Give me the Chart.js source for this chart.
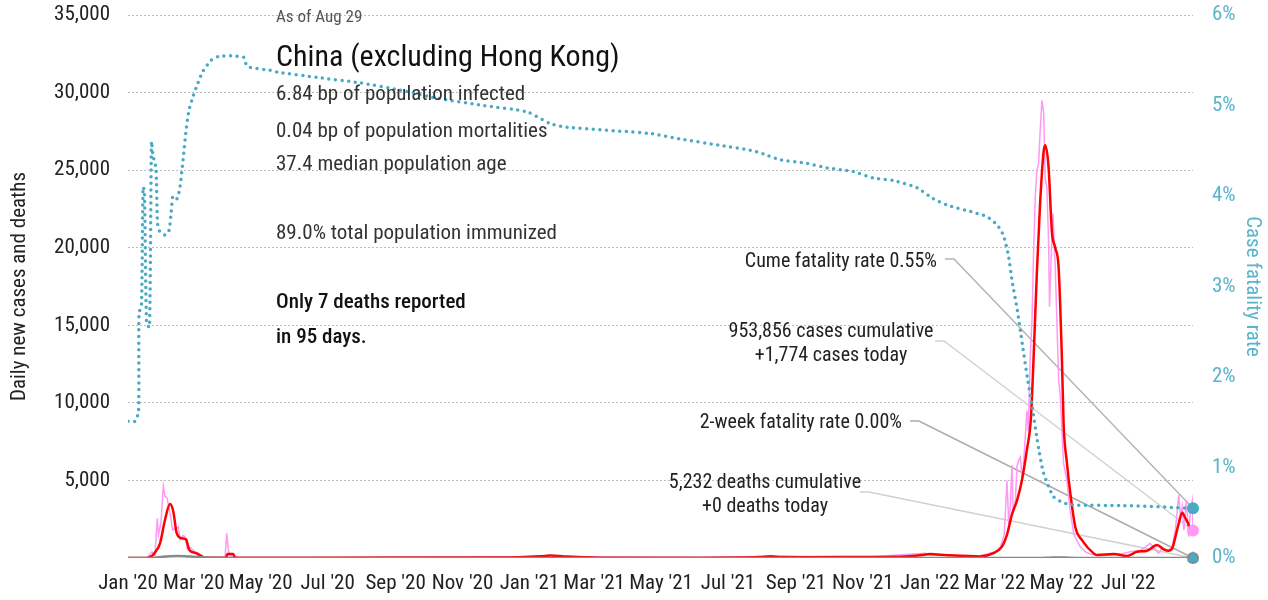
<!DOCTYPE html>
<html>
<head>
<meta charset="utf-8">
<script src="https://cdn.jsdelivr.net/npm/chart.js@4.4.0/dist/chart.umd.min.js"></script>
<style>
  body { margin: 0; background: #fff; }
  #wrap { width: 1268px; height: 600px; position: relative; }
</style>
</head>
<body>
<div id="wrap"><canvas id="covidChart"></canvas></div>
<script>
const FONT = "'Roboto Condensed', 'DejaVu Sans Condensed', sans-serif";
const TEAL = '#4aa9c3';
const PINK = '#ff99f5';

// x values are days counted from Jan 1 2020
const tickDays = [0, 60, 121, 182, 244, 305, 366, 425, 486, 547, 609, 670, 731, 790, 851, 912];
const tickLabels = ["Jan '20", "Mar '20", "May '20", "Jul '20", "Sep '20", "Nov '20", "Jan '21", "Mar '21",
  "May '21", "Jul '21", "Sep '21", "Nov '21", "Jan '22", "Mar '22", "May '22", "Jul '22"];
const lastDay = 971;

// case fatality rate, %
const cfrDays = [0, 6.4, 9.6, 10, 12.3, 13.7, 15, 16.9, 19.6, 21.4, 22.8, 25.5, 26.9, 29.2, 33.7, 37.4, 39.2, 41,
  44.7, 47.4, 50.2, 52.9, 55.6, 59.3, 63.8, 68.4, 75.7, 82.1, 93.9, 105.8, 107.6, 111.3, 129.5, 135.9, 172.4,
  211.6, 248.1, 281.8, 323.8, 363.9, 384.9, 400.4, 476.1, 503.4, 539.9, 570, 582.8, 594.6, 619.2, 637.5, 661.2,
  679.4, 697.7, 719.6, 734.2, 746.9, 770.6, 783.4, 792.5, 798, 802.6, 806.2, 810.8, 815.3, 819.9, 824.4, 829,
  834.5, 843.6, 852.7, 863.6, 904.7, 971];
const cfrPct = [1.51, 1.51, 1.62, 2.7, 2.8, 4.1, 4.05, 2.6, 2.55, 4.6, 4.45, 4.3, 3.7, 3.6, 3.57, 3.62, 3.8, 4.0,
  3.97, 4.1, 4.4, 4.72, 4.95, 5.1, 5.25, 5.38, 5.5, 5.54, 5.55, 5.53, 5.46, 5.42, 5.39, 5.37, 5.31,
  5.25, 5.17, 5.08, 5.0, 4.93, 4.80, 4.76, 4.69, 4.63, 4.56, 4.50, 4.45, 4.40, 4.36, 4.31, 4.27,
  4.20, 4.17, 4.09, 3.97, 3.90, 3.82, 3.77, 3.68, 3.57, 3.35, 3.05, 2.74, 2.37, 2.0, 1.67, 1.30,
  0.95, 0.68, 0.61, 0.585, 0.58, 0.55];
const twoWeekRate = 0.0;

// 7-day average of new cases
const avgDays = [0, 17, 22, 24.6, 29.2, 33.7, 38.3, 41.3, 44.4, 49, 52.9, 55.9, 62.7, 70.2, 89.4, 90.6, 96, 97.6,
  157, 248, 294, 339, 376, 385, 398, 430, 522, 576, 586, 595, 622, 677, 704, 725, 731, 747, 777, 789,
  796.8, 801.4, 805.9, 810.5, 815, 819.6, 823.2, 825.6, 828.7, 831.7, 834.8, 836.3, 839.3, 842.4, 845.4,
  848.5, 851.5, 853, 856.1, 859.1, 863.7, 869.8, 880.4, 883.5, 898.7, 910.8, 920, 929.1, 938.2, 944.3,
  948.8, 951.9, 955, 958, 961.1, 964.1, 967.1, 969.3, 971];
const avgCases = [0, 0, 150, 350, 950, 2450, 3480, 3000, 1600, 1270, 1200, 520, 300, 20, 20, 250, 250, 30,
  20, 30, 40, 25, 110, 160, 100, 20, 20, 60, 110, 60, 50, 70, 80, 200, 260, 180, 100, 320,
  730, 1500, 2800, 3700, 5000, 7000, 9000, 12800, 18500, 23000, 26200, 26600, 25200, 21000, 20000,
  18700, 12800, 8700, 6100, 4200, 2000, 1150, 300, 190, 250, 130, 400, 470, 840, 560,
  470, 600, 1370, 2240, 2920, 2560, 2130, 1600, 1800];

// daily reported new cases
const rawDays = [0, 17, 21.9, 24.6, 26.7, 27.8, 30.1, 32.2, 33.7, 35.6, 38.3, 40.7, 42.9, 45.9, 47.4, 50.2, 52,
  54.1, 56.5, 59.6, 63.8, 70.2, 88.5, 90, 91.2, 92.6, 96.7, 102, 248, 376, 385, 398, 522, 586, 677, 727, 731,
  777, 790.7, 795.3, 798.9, 801.4, 803, 804.4, 805.9, 807.1, 808.9, 810.5, 812, 813.5, 815.4, 817.2, 819.6,
  820.8, 822.6, 824.2, 825.6, 827.2, 828.7, 830.2, 831.7, 833.3, 834.8, 836.3, 837.8, 839.3, 840.2, 841.5,
  843.3, 845.4, 848.5, 850, 853, 856.1, 857.6, 859.1, 862.2, 864.6, 868.2, 872.8, 877.4, 886.5, 895.6,
  904.7, 913.8, 922.9, 927.5, 932, 934.8, 939.6, 943, 948.5, 952.2, 954.9, 958, 959.6, 961.1, 962.7, 965,
  967.1, 968.6, 970.5, 971];
const rawCases = [0, 0, 400, 200, 2560, 1500, 2300, 4640, 3950, 3900, 2900, 1800, 1900, 2000, 1200, 1450, 1370,
  600, 700, 500, 150, 30, 50, 1600, 700, 150, 60, 10, 20, 100, 170, 90, 20, 120, 80, 300, 200,
  150, 400, 700, 1500, 5000, 2200, 3300, 6000, 3000, 3500, 5900, 6300, 6500, 5000, 6800, 9500,
  8200, 13000, 15300, 19600, 23300, 25000, 25400, 27600, 29500, 28700, 24400, 23900, 20500, 16200, 19000,
  22200, 18800, 11500, 10400, 6100, 5000, 3950, 3000, 1600, 1200, 730, 400, 250, 150, 200,
  250, 400, 500, 700, 950, 700, 300, 650, 450, 800, 1800, 4060, 2600, 3300, 1800, 3740,
  1370, 3090, 3740, 1774];

// 7-day average of new deaths
const deathDays = [0, 20, 25, 32, 38, 45, 52, 60, 70, 80, 100, 830, 840, 848, 858, 870, 971];
const deathAvg = [0, 0, 30, 80, 110, 130, 120, 80, 30, 10, 0, 0, 20, 40, 15, 0, 0];

const statLines = [
  '6.84 bp of population infected',
  '0.04 bp of population mortalities',
  '37.4 median population age',
  '89.0% total population immunized'
];

const pts = (xs, ys) => xs.map((x, i) => ({ x: x, y: ys[i] }));
const lastOf = arr => arr[arr.length - 1];

// text panel and leader lines
const notesPlugin = {
  id: 'notes',
  beforeDatasetsDraw(chart) {
    const { ctx, scales } = chart;
    const xEnd = scales.x.getPixelForValue(lastDay);
    const leaders = [
      { x0: 945, y0: 259, y: scales.y1.getPixelForValue(lastOf(cfrPct)), color: '#b5b5b5' },
      { x0: 935, y0: 341, y: scales.y.getPixelForValue(lastOf(rawCases)), color: '#d2d2d2' },
      { x0: 910, y0: 421, y: scales.y1.getPixelForValue(twoWeekRate), color: '#ababab' },
      { x0: 860, y0: 492, y: scales.y.getPixelForValue(lastOf(deathAvg)), color: '#d0d0d0' }
    ];
    ctx.save();
    ctx.lineWidth = 1.5;
    leaders.forEach(l => {
      ctx.strokeStyle = l.color;
      ctx.beginPath();
      ctx.moveTo(l.x0, l.y0);
      ctx.lineTo(l.x0 + 9, l.y0);
      ctx.lineTo(xEnd, l.y);
      ctx.stroke();
    });
    ctx.restore();
  },
  afterDraw(chart) {
    const ctx = chart.ctx;
    ctx.save();
    ctx.textBaseline = 'alphabetic';
    ctx.textAlign = 'left';
    ctx.fillStyle = '#555';
    ctx.font = '17px ' + FONT;
    ctx.fillText('As of Aug 29', 276, 22);
    ctx.fillStyle = '#111';
    ctx.font = '30px ' + FONT;
    ctx.fillText('China (excluding Hong Kong)', 276, 66);
    ctx.fillStyle = '#333';
    ctx.font = '21px ' + FONT;
    [100, 137, 170, 239].forEach((y, i) => ctx.fillText(statLines[i], 276, y));
    ctx.fillStyle = '#111';
    ctx.font = '500 21px ' + FONT;
    ctx.fillText('Only 7 deaths reported', 276, 308);
    ctx.fillText('in 95 days.', 276, 343);

    ctx.fillStyle = '#222';
    ctx.font = '20px ' + FONT;
    ctx.textAlign = 'right';
    ctx.fillText('Cume fatality rate ' + lastOf(cfrPct).toFixed(2) + '%', 937, 267);
    ctx.fillText('2-week fatality rate ' + twoWeekRate.toFixed(2) + '%', 902, 428);
    ctx.textAlign = 'center';
    ctx.fillText('953,856 cases cumulative', 831, 337);
    ctx.fillText('+' + lastOf(rawCases).toLocaleString('en-US') + ' cases today', 831, 361);
    ctx.fillText('5,232 deaths cumulative', 765, 488);
    ctx.fillText('+0 deaths today', 765, 512);
    ctx.restore();
  }
};

const marker = (data, axis, color, style, r) => ({
  data: data, yAxisID: axis, showLine: false, clip: false,
  pointRadius: r, pointStyle: style, pointBackgroundColor: color, pointBorderWidth: 0
});

// fixed axis sizes so the plot area sits where the original one does
const fitVertical = w => s => { s.width = w; s.paddingTop = 15; s.paddingBottom = 0; };

new Chart(document.getElementById('covidChart'), {
  type: 'line',
  data: {
    datasets: [
      marker([{ x: lastDay, y: lastOf(cfrPct) }], 'y1', TEAL, 'circle', 6),
      marker([{ x: lastDay, y: twoWeekRate }], 'y1', TEAL, 'triangle', 7),
      marker([{ x: lastDay, y: lastOf(deathAvg) }], 'y', '#888', 'circle', 6),
      marker([{ x: lastDay, y: lastOf(rawCases) }], 'y', PINK, 'circle', 6),
      {
        label: 'Case fatality rate', data: pts(cfrDays, cfrPct), yAxisID: 'y1',
        borderColor: TEAL, borderWidth: 3.5, borderDash: [0, 6.6], borderCapStyle: 'round',
        pointRadius: 0, tension: 0.2
      },
      {
        label: 'Deaths', data: pts(deathDays, deathAvg), yAxisID: 'y',
        borderColor: '#888', borderWidth: 2.5, pointRadius: 0, cubicInterpolationMode: 'monotone'
      },
      {
        label: '7-day avg cases', data: pts(avgDays, avgCases), yAxisID: 'y',
        borderColor: '#ff0000', borderWidth: 2.5, pointRadius: 0, cubicInterpolationMode: 'monotone'
      },
      {
        label: 'New cases', data: pts(rawDays, rawCases), yAxisID: 'y',
        borderColor: PINK, borderWidth: 1.5, pointRadius: 0, tension: 0
      }
    ]
  },
  options: {
    responsive: true,
    maintainAspectRatio: false,
    animation: false,
    layout: { padding: 0 },
    plugins: { legend: { display: false }, tooltip: { enabled: false } },
    scales: {
      x: {
        type: 'linear', min: 0, max: lastDay,
        grid: { display: false, drawTicks: false },
        border: { display: false },
        afterBuildTicks: s => { s.ticks = tickDays.map(v => ({ value: v })); },
        afterFit: s => { s.height = 42; },
        ticks: {
          autoSkip: false, maxRotation: 0, padding: 13, color: '#222',
          font: { family: FONT, size: 21 },
          callback: (v, i) => tickLabels[i]
        }
      },
      y: {
        position: 'left', min: 0, max: 35000,
        afterFit: fitVertical(128),
        grid: {
          drawTicks: false, lineWidth: 1,
          color: c => (c.tick && c.tick.value === 0) ? 'rgba(0,0,0,0)' : '#bcbcbc'
        },
        border: { display: false, dash: [2, 2] },
        ticks: {
          stepSize: 5000, padding: 18, color: '#222',
          font: { family: FONT, size: 21 },
          callback: v => v === 0 ? '' : v.toLocaleString('en-US')
        },
        title: {
          display: true, text: 'Daily new cases and deaths', color: '#222',
          font: { family: FONT, size: 21 }, padding: { top: 7, bottom: 0 }
        }
      },
      y1: {
        position: 'right', min: 0, max: 6,
        afterFit: fitVertical(75),
        grid: { display: false, drawTicks: false },
        border: { display: false },
        ticks: {
          stepSize: 1, padding: 19, color: '#5ab4cc',
          font: { family: FONT, size: 21 },
          callback: v => v + '%'
        },
        title: {
          display: true, text: 'Case fatality rate', color: '#5ab4cc',
          font: { family: FONT, size: 21 }, padding: { top: 3, bottom: 0 }
        }
      }
    }
  },
  plugins: [notesPlugin]
});
</script>
</body>
</html>
